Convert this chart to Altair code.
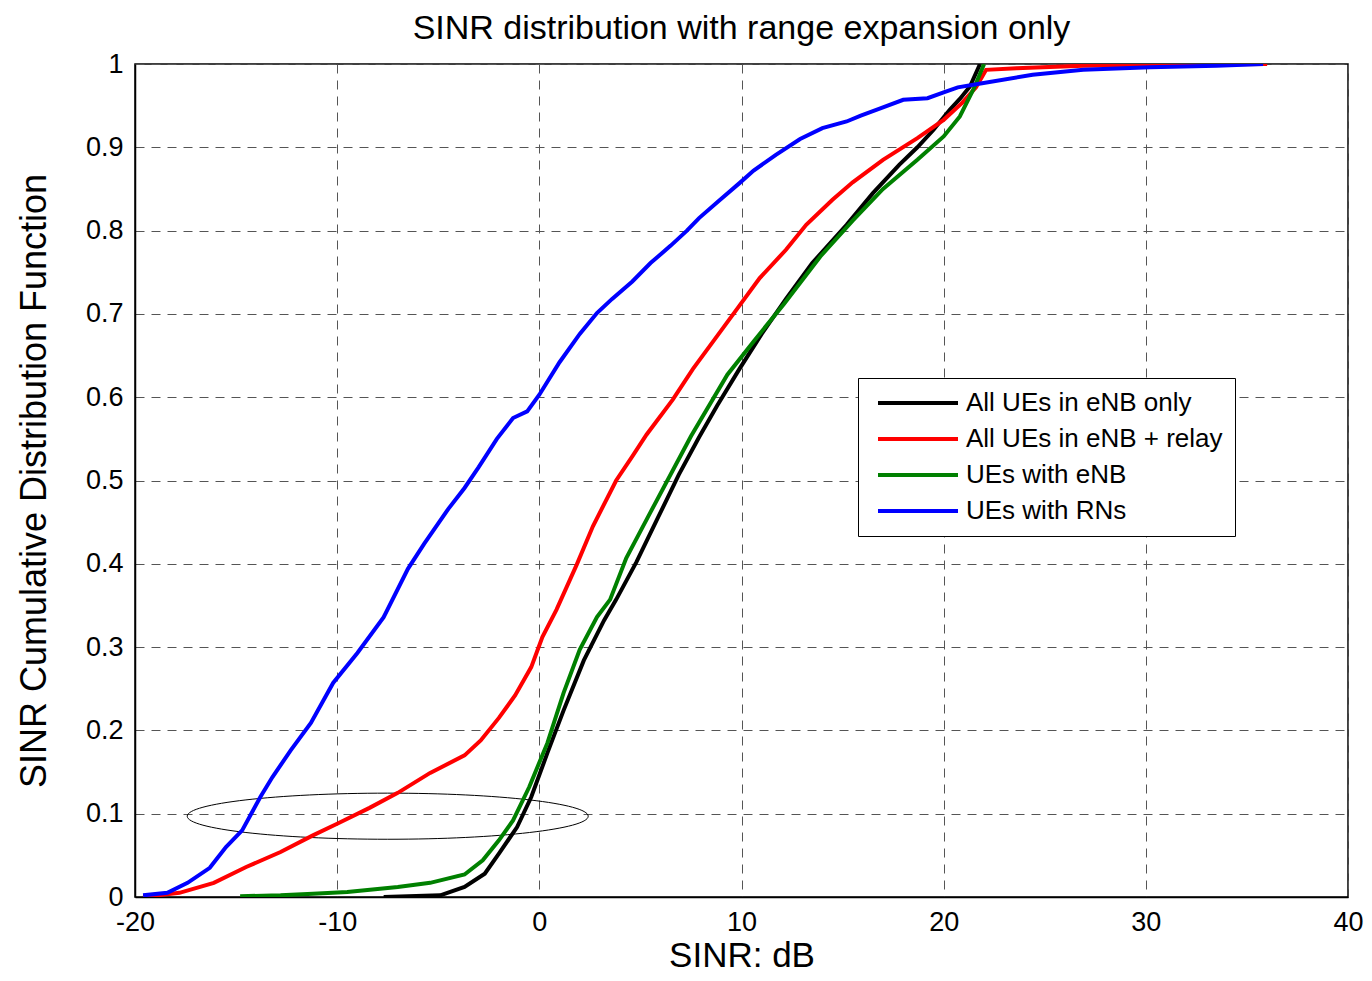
import altair as alt
import pandas as pd

FONT = "Liberation Sans"

series_names = ["All UEs in eNB only", "All UEs in eNB + relay", "UEs with eNB", "UEs with RNs"]
series_colors = ["#000000", "#ff0000", "#008000", "#0000ff"]

black_x = [-7.7, -4.9, -3.7, -2.7, -2.0, -1.1, -0.4, 0.4, 1.2, 2.2, 3.2, 3.8, 4.8, 5.8, 6.9, 7.9,
           8.8, 9.9, 11.0, 12.2, 13.5, 15.2, 16.5, 17.8, 18.7, 19.5, 20.3, 20.8, 21.3, 21.8]
black_y = [0.0, 0.002, 0.012, 0.028, 0.052, 0.084, 0.12, 0.173, 0.224, 0.284, 0.332, 0.357, 0.402,
           0.452, 0.507, 0.552, 0.59, 0.634, 0.676, 0.718, 0.761, 0.807, 0.845, 0.879, 0.90, 0.921,
           0.945, 0.958, 0.973, 1.0]

red_x = [-19.6, -17.8, -16.1, -14.5, -12.8, -11.2, -10.0, -8.4, -7.0, -5.4, -3.7, -2.9, -2.0, -1.2,
         -0.4, 0.15, 0.85, 1.85, 2.65, 3.8, 4.6, 5.3, 6.6, 7.6, 8.6, 9.9, 10.9, 12.2, 13.2, 14.5,
         15.5, 17.0, 18.7, 20.0, 20.9, 21.6, 22.1, 23.6, 26.9, 30.0, 36.0]
red_y = [0.0, 0.005, 0.017, 0.036, 0.054, 0.074, 0.088, 0.107, 0.125, 0.149, 0.17, 0.188, 0.215,
         0.242, 0.276, 0.312, 0.345, 0.399, 0.445, 0.5, 0.529, 0.555, 0.597, 0.634, 0.667, 0.71,
         0.743, 0.777, 0.807, 0.837, 0.858, 0.885, 0.911, 0.933, 0.953, 0.972, 0.993, 0.995, 0.998,
         0.999, 1.0]

green_x = [-14.8, -12.8, -11.2, -9.5, -7.0, -5.4, -3.7, -2.8, -2.0, -1.3, -0.5, 0.4, 1.2, 2.0, 2.85,
           3.5, 4.3, 5.5, 7.5, 9.3, 10.6, 12.1, 13.9, 15.5, 17.0, 18.7, 20.0, 20.8, 21.5, 22.0]
green_y = [0.001, 0.002, 0.004, 0.006, 0.012, 0.017, 0.027, 0.044, 0.068, 0.092, 0.132, 0.185,
           0.245, 0.297, 0.336, 0.357, 0.407, 0.462, 0.553, 0.627, 0.667, 0.712, 0.769, 0.812, 0.85,
           0.885, 0.913, 0.937, 0.971, 1.0]

blue_x = [-19.6, -18.4, -17.4, -16.3, -15.5, -14.7, -13.8, -13.2, -12.3, -11.3, -10.2, -9.0, -7.7,
          -6.5, -5.7, -4.5, -3.7, -3.0, -2.1, -1.3, -0.6, 0.0, 1.0, 2.0, 2.85, 3.6, 4.6, 5.5, 6.5,
          7.3, 7.9, 8.9, 9.9, 10.6, 11.7, 12.9, 14.0, 15.2, 15.9, 16.8, 18.0, 19.2, 20.0, 20.7,
          21.9, 24.4, 26.9, 30.2, 33.5, 35.8]
blue_y = [0.002, 0.005, 0.017, 0.035, 0.06, 0.08, 0.12, 0.144, 0.176, 0.209, 0.257, 0.293, 0.336,
          0.394, 0.424, 0.466, 0.491, 0.516, 0.55, 0.575, 0.583, 0.603, 0.642, 0.676, 0.701, 0.718,
          0.739, 0.761, 0.782, 0.800, 0.815, 0.836, 0.857, 0.872, 0.891, 0.91, 0.923, 0.931, 0.938,
          0.946, 0.957, 0.959, 0.966, 0.972, 0.977, 0.987, 0.993, 0.996, 0.998, 1.0]

# annotation ellipse (centre in data coordinates)
ellipse_x = [-7.5]
ellipse_y = [0.097]

x_ticks = [-20, -10, 0, 10, 20, 30, 40]
y_ticks = [0, 0.1, 0.2, 0.3, 0.4, 0.5, 0.6, 0.7, 0.8, 0.9, 1]

rows = []
for name, xs, ys in zip(series_names, [black_x, red_x, green_x, blue_x],
                        [black_y, red_y, green_y, blue_y]):
    for i, (xv, yv) in enumerate(zip(xs, ys)):
        rows.append({"series": name, "sinr": xv, "cdf": yv, "idx": i})
df = pd.DataFrame(rows)

x_scale = alt.Scale(domain=[-20, 40], nice=False, zero=False)
y_scale = alt.Scale(domain=[0, 1], nice=False, zero=False)

x_axis = alt.Axis(
    title="SINR: dB", values=x_ticks, labelExpr="datum.value + ''",
    grid=True, gridDash=[9, 7], gridColor="#555555", gridOpacity=1, gridWidth=1,
    ticks=False, tickSize=0, labelPadding=12, labelFontSize=27, labelFont=FONT,
    labelColor="black", titleFontSize=35, titleFont=FONT, titleFontWeight="normal",
    titleColor="black", titlePadding=3, domainColor="black", domainWidth=1.5,
    labelFlush=False, labelOverlap=False,
)
y_axis = alt.Axis(
    title="SINR Cumulative Distribution Function", values=y_ticks,
    labelExpr="datum.value + ''",
    grid=True, gridDash=[9, 7], gridColor="#555555", gridOpacity=1, gridWidth=1,
    ticks=False, tickSize=0, labelPadding=12, labelFontSize=27, labelFont=FONT,
    labelColor="black", titleFontSize=36, titleFont=FONT, titleFontWeight="normal",
    titleColor="black", titlePadding=32, domainColor="black", domainWidth=1.5,
    labelFlush=False, labelOverlap=False,
)

lines = alt.Chart(df).mark_line(strokeWidth=4, clip=True).encode(
    x=alt.X("sinr:Q", scale=x_scale, axis=x_axis),
    y=alt.Y("cdf:Q", scale=y_scale, axis=y_axis),
    color=alt.Color(
        "series:N",
        scale=alt.Scale(domain=series_names, range=series_colors),
        legend=alt.Legend(
            title=None, orient="none", legendX=723, legendY=314,
            symbolType="M-1,0H15", symbolSize=100, symbolStrokeWidth=4,
            labelFontSize=26, labelFont=FONT, labelColor="black", labelOffset=70,
            labelLimit=600, rowPadding=10, padding=12,
            strokeColor="black", fillColor="white", cornerRadius=0,
        ),
    ),
    order=alt.Order("idx:Q"),
)

ell_df = pd.DataFrame({"sinr": ellipse_x, "cdf": ellipse_y})
ellipse = alt.Chart(ell_df).mark_point(
    shape="M-1,0A1,0.115,0,1,1,1,0A1,0.115,0,1,1,-1,0Z",
    size=160801, filled=False, stroke="black", strokeWidth=1, opacity=1,
).encode(x=alt.X("sinr:Q", scale=x_scale), y=alt.Y("cdf:Q", scale=y_scale))

chart = alt.layer(ellipse, lines).properties(
    width=1213, height=833,
    autosize=alt.AutoSizeParams(type="none"),
    padding={"left": 127, "top": 56, "right": 16, "bottom": 76},
    title=alt.Title("SINR distribution with range expansion only", fontSize=34, font=FONT,
                    fontWeight="normal", color="black", offset=4, anchor="middle",
                    frame="group"),
).configure_view(stroke="black", strokeWidth=1.5)

chart.save("out.html", embed_options={"renderer": "svg", "actions": False})
